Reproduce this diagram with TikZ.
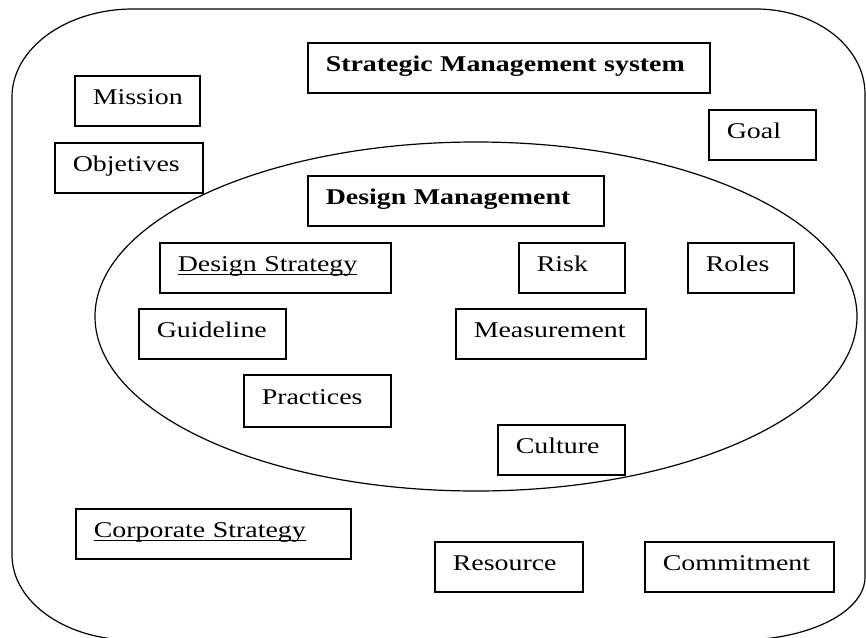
\documentclass[tikz,border=0pt]{standalone}
\usepackage{fontspec}
\setmainfont{Liberation Serif}[FakeStretch=1.24]
\newcommand\ulin[1]{\setbox0\hbox{#1}\rlap{\rule[-3pt]{\wd0}{1.3pt}}\box0}
\tikzset{
  box/.style={draw, line width=1.6pt, fill=white, anchor=north west,
    inner xsep=18pt, inner ysep=0pt, text height=14pt, text depth=6pt,
    align=left, minimum height=50pt, font=\fontsize{22.5}{27}\selectfont},
  frame/.style={draw, line width=1.2pt}
}
\begin{document}
\begin{tikzpicture}[x=1pt,y=-1pt]
\useasboundingbox (0,0) rectangle (866,637);
% outer rounded frame
\draw[frame] (133,9) .. controls (66.2,9) and (12,48.4) .. (12,97)
  -- (12,555) .. controls (12,601.9) and (65.7,640) .. (132,640)
  -- (740,640) .. controls (809,640) and (865,611.8) .. (865,577)
  -- (865,94) .. controls (865,47.1) and (816.2,9) .. (756,9) -- cycle;
% inner ellipse
\draw[frame] (476,316.5) ellipse [x radius=381, y radius=174.5];
% boxes
\node[box, text width=366pt, minimum width=402pt] (sms) at (307,42) {\mbox{\bfseries Strategic Management system}};
\node[box, text width=89pt, minimum width=125pt] (mission) at (74,75) {\mbox{Mission}};
\node[box, text width=112pt, minimum width=148pt] (obj) at (54,142) {\mbox{Objetives}};
\node[box, text width=71pt, minimum width=107pt] (goal) at (708,109) {\mbox{Goal}};
\node[box, text width=260pt, minimum width=296pt] (dm) at (307,175) {\mbox{\bfseries Design Management}};
\node[box, text width=195pt, minimum width=231pt] (ds) at (159,242) {\mbox{\ulin{Design Strategy}}};
\node[box, text width=70pt, minimum width=106pt] (risk) at (518,242) {\mbox{Risk}};
\node[box, text width=70pt, minimum width=106pt] (roles) at (687,242) {\mbox{Roles}};
\node[box, text width=111pt, minimum width=147pt] (guide) at (138,308) {\mbox{Guideline}};
\node[box, text width=154pt, minimum width=190pt] (meas) at (455,308) {\mbox{Measurement}};
\node[box, text width=111pt, minimum width=147pt, minimum height=52pt] (prac) at (243,374) {\mbox{Practices}};
\node[box, text width=91pt, minimum width=127pt] (cult) at (497,424) {\mbox{Culture}};
\node[box, text width=239pt, minimum width=275pt] (corp) at (75,508) {\mbox{\ulin{Corporate Strategy}}};
\node[box, text width=112pt, minimum width=148pt] (res) at (434,541) {\mbox{Resource}};
\node[box, text width=153pt, minimum width=189pt] (comm) at (644,541) {\mbox{Commitment}};
\end{tikzpicture}
\end{document}
